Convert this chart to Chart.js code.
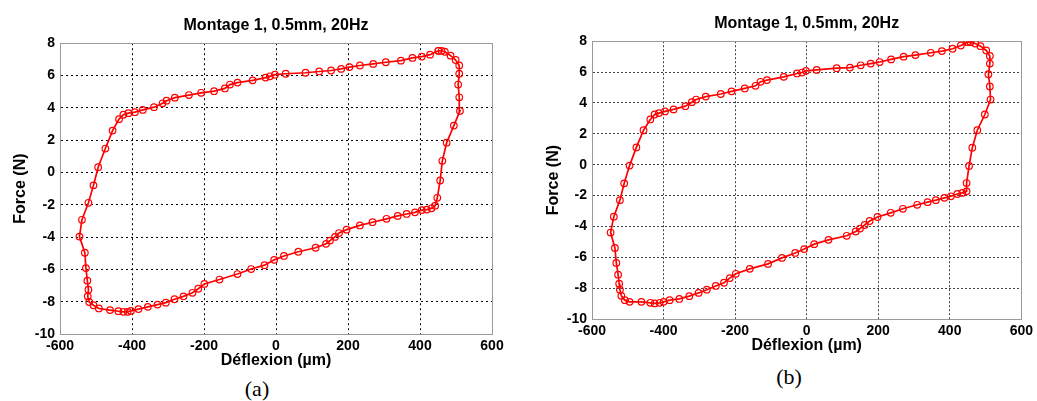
<!DOCTYPE html>
<html>
<head>
<meta charset="utf-8">
<script src="https://cdn.jsdelivr.net/npm/chart.js@4/dist/chart.umd.min.js"></script>
<style>
  html, body { margin: 0; padding: 0; background: #fff; }
  body { width: 1037px; height: 401px; position: relative; overflow: hidden; }
  .panel { position: absolute; top: 0; }
  .tag { position: absolute; font-family: "Liberation Serif", "Times New Roman", serif; font-size: 22px; color: #000; transform: translate(-50%, -50%); }
</style>
</head>
<body>
<div class="panel" style="left:0px;"><canvas id="chartA" width="510" height="375"></canvas></div>
<div class="panel" style="left:520px;"><canvas id="chartB" width="517" height="360"></canvas></div>
<div class="tag" style="left:257px; top:389px;">(a)</div>
<div class="tag" style="left:789px; top:377px;">(b)</div>
<script>
// ---------------- Data ----------------
const chartTitle = 'Montage 1, 0.5mm, 20Hz';
const xTitle = 'Déflexion (µm)';
const yTitle = 'Force (N)';
const xTicks = [-600, -400, -200, 0, 200, 400, 600];
const yTicks = [-10, -8, -6, -4, -2, 0, 2, 4, 6, 8];

// (a) deflexion / force along the loop
const deflexionA = [451, 428, 405, 379, 347, 305, 270, 233, 204, 181, 153, 120, 82, 27, -3, -17, -29, -65, -107, -128,
  -142, -172, -208, -242, -281, -304, -315, -339, -370, -392, -410, -424, -436, -454, -474, -494, -507, -521, -539, -546,
  -531, -528, -524, -521, -523, -519, -507, -492, -461, -438, -424, -412, -403, -382, -356, -329, -306, -282, -257, -232,
  -216, -199, -157, -107, -69, -32, -5, 22, 62, 110, 139, 150, 164, 175, 196, 233, 268, 307, 338, 363,
  386, 405, 419, 432, 442, 448, 456, 462, 474, 494, 511, 509, 506, 509, 509, 499, 485, 469, 460, 451];
const forceA = [7.53, 7.29, 7.17, 7.09, 6.92, 6.82, 6.72, 6.62, 6.52, 6.41, 6.31, 6.25, 6.17, 6.11, 6.05, 5.95, 5.87, 5.70, 5.56, 5.44,
  5.20, 5.03, 4.93, 4.79, 4.63, 4.44, 4.28, 4.04, 3.87, 3.73, 3.67, 3.57, 3.30, 2.59, 1.48, 0.32, -0.80, -1.88, -2.93, -3.97,
  -4.97, -5.92, -6.70, -7.26, -7.67, -8.02, -8.22, -8.42, -8.52, -8.59, -8.63, -8.63, -8.57, -8.46, -8.32, -8.18, -8.06, -7.85, -7.67, -7.45,
  -7.20, -6.90, -6.63, -6.29, -5.98, -5.74, -5.41, -5.17, -4.91, -4.66, -4.42, -4.22, -3.99, -3.75, -3.54, -3.28, -3.08, -2.87, -2.69, -2.57,
  -2.47, -2.33, -2.30, -2.22, -2.06, -1.57, -0.50, 0.72, 1.84, 2.90, 3.81, 4.65, 5.44, 6.11, 6.62, 6.96, 7.23, 7.47, 7.53, 7.53];

// (b) deflexion / force along the loop
const deflexionB = [449, 431, 408, 378, 347, 304, 271, 236, 204, 179, 151, 121, 84, 28, -2, -13, -27, -64, -111, -129,
  -143, -173, -210, -240, -282, -309, -321, -339, -372, -396, -413, -425, -437, -456, -476, -495, -510, -522, -539, -548,
  -536, -532, -527, -524, -522, -518, -508, -495, -462, -437, -425, -411, -400, -383, -356, -328, -302, -279, -254, -231,
  -215, -198, -159, -108, -69, -32, -7, 21, 61, 112, 137, 149, 162, 176, 198, 235, 269, 309, 338, 361,
  385, 403, 421, 435, 447, 447, 454, 463, 477, 498, 514, 512, 508, 512, 512, 502, 486, 471, 458, 449];
const forceB = [7.94, 7.72, 7.51, 7.36, 7.25, 7.10, 7.00, 6.82, 6.65, 6.55, 6.44, 6.29, 6.25, 6.14, 6.08, 5.97, 5.91, 5.69, 5.48, 5.37,
  5.11, 4.94, 4.75, 4.58, 4.41, 4.22, 4.05, 3.79, 3.58, 3.45, 3.34, 3.25, 2.93, 2.23, 1.12, -0.06, -1.21, -2.30, -3.37, -4.40,
  -5.40, -6.37, -7.13, -7.71, -8.10, -8.50, -8.78, -8.89, -8.89, -8.95, -8.99, -8.95, -8.89, -8.78, -8.70, -8.52, -8.31, -8.10, -7.86, -7.65,
  -7.35, -7.07, -6.75, -6.43, -6.04, -5.72, -5.47, -5.15, -4.87, -4.61, -4.33, -4.14, -3.91, -3.65, -3.39, -3.12, -2.86, -2.60, -2.43, -2.30,
  -2.15, -2.05, -1.90, -1.83, -1.73, -1.19, -0.08, 1.10, 2.23, 3.25, 4.22, 5.07, 5.86, 6.55, 7.04, 7.40, 7.68, 7.85, 7.94, 7.94];

// ---------------- Chart helpers ----------------
const FONT = 'Arial, "Liberation Sans", Helvetica, sans-serif';

// grey box around the plot area
const framePlugin = {
  id: 'frame',
  beforeDatasetsDraw(chart, args, opts) {
    const { ctx, chartArea: a } = chart;
    ctx.save();
    ctx.strokeStyle = opts.color;
    ctx.lineWidth = 1;
    ctx.strokeRect(Math.round(a.left) + 0.5, Math.round(a.top) + 0.5, Math.round(a.right - a.left), Math.round(a.bottom - a.top));
    ctx.restore();
  }
};

function makeChart(id, xs, ys, cfg) {
  const points = xs.map((x, i) => ({ x, y: ys[i] }));
  const tickFont = { family: FONT, size: 14, weight: 'bold' };
  const titleFont = { family: FONT, size: 16, weight: 'bold', lineHeight: 1.2 };
  return new Chart(document.getElementById(id), {
    type: 'scatter',
    data: {
      datasets: [{
        data: points,
        showLine: true,
        borderColor: '#ff0000',
        borderWidth: 1.7,
        pointStyle: 'circle',
        pointRadius: 3.3,
        pointBorderWidth: 1.2,
        pointBackgroundColor: 'rgba(0,0,0,0)',
        pointBorderColor: '#ff0000',
        tension: 0
      }]
    },
    options: {
      responsive: false,
      animation: false,
      layout: { padding: { left: 0, right: cfg.padRight, top: 0, bottom: 0 } },
      plugins: {
        legend: { display: false },
        tooltip: { enabled: false },
        title: {
          display: true,
          text: chartTitle,
          fullSize: false,
          color: '#000',
          font: titleFont,
          padding: { top: cfg.titleTop, bottom: cfg.titleBottom }
        },
        frame: { color: cfg.frameColor }
      },
      scales: {
        x: {
          type: 'linear',
          min: -600, max: 600,
          afterFit: s => { s.height = cfg.xHeight; },
          afterBuildTicks: s => { s.ticks = xTicks.map(v => ({ value: v })); },
          grid: { color: cfg.gridColor, lineWidth: 1, drawTicks: false },
          border: { display: true, color: cfg.axisColor, dash: cfg.gridDash, width: 1 },
          ticks: { color: '#000', padding: 4, maxRotation: 0, font: tickFont },
          title: { display: true, text: xTitle, color: '#000', padding: { top: 0, bottom: cfg.xTitlePad }, font: titleFont }
        },
        y: {
          type: 'linear',
          min: -10, max: 8,
          afterFit: s => { s.width = cfg.yWidth; },
          afterBuildTicks: s => { s.ticks = yTicks.map(v => ({ value: v })); },
          grid: { color: cfg.gridColor, lineWidth: 1, drawTicks: false },
          border: { display: true, color: cfg.axisColor, dash: cfg.gridDash, width: 1 },
          ticks: { color: '#000', padding: 5, font: tickFont },
          title: { display: true, text: yTitle, color: '#000', padding: { top: cfg.yTitlePad, bottom: 0 }, font: titleFont }
        }
      }
    },
    plugins: [framePlugin]
  });
}

const chartA = makeChart('chartA', deflexionA, forceA, {
  padRight: 18, titleTop: 16, titleBottom: 8, xHeight: 41, xTitlePad: 5, yWidth: 60, yTitlePad: 11,
  gridColor: '#000', gridDash: [2, 3], axisColor: '#808080', frameColor: '#9a9a9a'
});
const chartB = makeChart('chartB', deflexionB, forceB, {
  padRight: 13, titleTop: 14, titleBottom: 8, xHeight: 41, xTitlePad: 5, yWidth: 72, yTitlePad: 24,
  gridColor: '#444', gridDash: [2, 2], axisColor: '#808080', frameColor: '#9a9a9a'
});
</script>
</body>
</html>
